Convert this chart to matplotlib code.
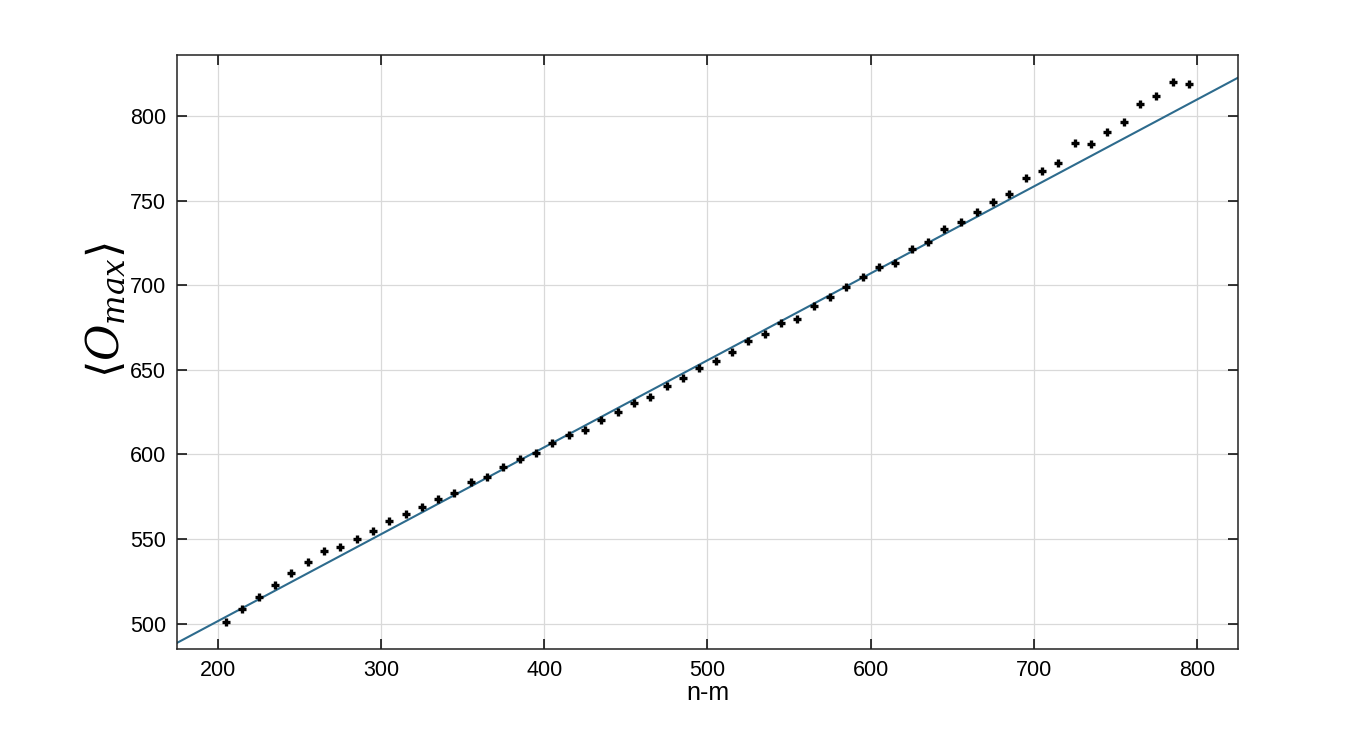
import numpy as np
import matplotlib.pyplot as plt

plt.rcParams['font.family'] = ['Liberation Sans', 'DejaVu Sans']
plt.rcParams['mathtext.fontset'] = 'dejavuserif'

# measured points
n_m = np.arange(205, 800, 10)
o_max = [
    500.8, 508.5, 515.5, 522.6, 529.7, 536.2, 542.7, 545.1, 550.2, 554.6,
    560.5, 564.6, 568.7, 573.5, 577.2, 583.7, 586.6, 592.6, 597.1, 600.7,
    606.6, 611.6, 614.2, 620.1, 624.9, 630.2, 634.1, 640.2, 645.0, 650.9,
    655.0, 660.3, 666.8, 671.0, 677.5, 680.2, 687.5, 692.8, 698.8, 704.7,
    710.8, 713.3, 721.4, 725.5, 733.2, 737.2, 743.1, 749.0, 753.7, 763.2,
    767.3, 772.0, 783.9, 783.3, 790.4, 796.3, 806.9, 811.6, 819.9, 818.7,
]

# linear fit shown on the chart
fit_slope = 0.5138
fit_intercept = 398.7

x_limits = (175, 825)
y_limits = (485, 836)
x_ticks = [200, 300, 400, 500, 600, 700, 800]
y_ticks = [500, 550, 600, 650, 700, 750, 800]

fig = plt.figure(figsize=(13.69, 7.30), dpi=100)
ax = fig.add_axes([177 / 1369, 1 - 649 / 730, 1061 / 1369, 594 / 730])

xf = np.array(x_limits, dtype=float)
ax.plot(xf, fit_slope * xf + fit_intercept, color='#2d6b8d', lw=1.5, zorder=2)
ax.plot(n_m, o_max, linestyle='none', marker='+', color='black',
        markersize=5.5, markeredgewidth=2.4, zorder=3)

ax.set_xlim(*x_limits)
ax.set_ylim(*y_limits)
ax.set_xticks(x_ticks)
ax.set_yticks(y_ticks)
ax.grid(True, color='#d9d9d9', linewidth=0.9)
ax.set_axisbelow(True)

ax.tick_params(direction='in', length=7, width=1.1, top=True, right=True,
               labelsize=15.5, pad=8, colors='black')
for s in ax.spines.values():
    s.set_linewidth(1.1)
    s.set_color('#222222')

ax.set_xlabel('n-m', fontsize=18, labelpad=0)
ax.set_ylabel(r'$\langle O_{max}\rangle$', fontsize=32)
ax.yaxis.set_label_coords(-0.046, 0.57)

fig.savefig('out.png', dpi=100)
